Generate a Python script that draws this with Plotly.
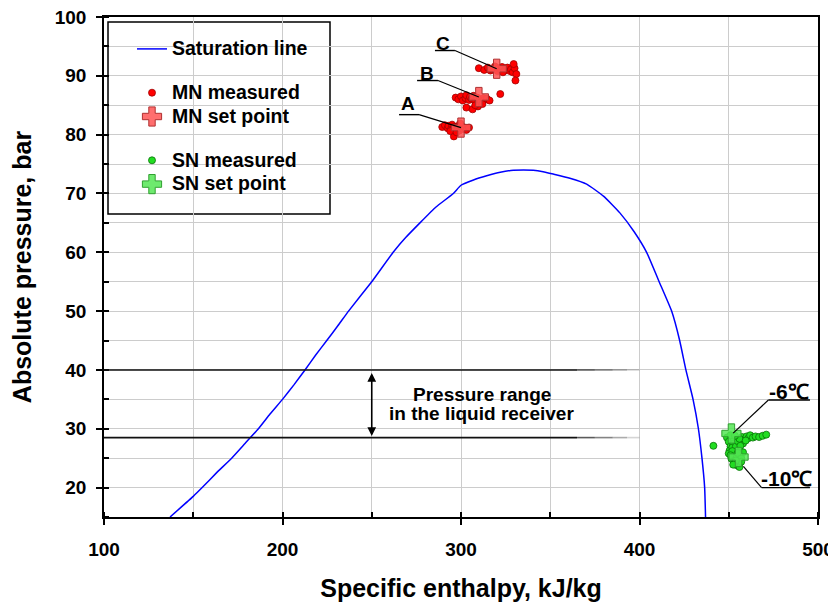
import plotly.graph_objects as go

# Saturation line (specific enthalpy kJ/kg, pressure bar)
sat_h = [137, 150, 155, 163, 171.5, 179, 186.5, 193, 200, 206.5, 212.6, 218.5, 224.8, 231, 237, 250, 262, 269, 277,
         286, 295.7, 300, 307, 314.4, 322, 329.3, 335, 340.5, 346, 351.7, 361, 370.4, 380, 389, 397, 404, 411,
         418, 422.5, 426, 430, 433, 435, 436.5, 437]
sat_P = [15, 18.5, 20, 22.5, 25, 27.5, 30, 32.5, 35, 37.5, 40, 42.5, 45, 47.5, 50, 55, 60, 62.5, 65,
         67.7, 70, 71.4, 72.3, 73, 73.6, 73.95, 74, 73.95, 73.7, 73.3, 72.6, 71.6, 69.5, 66.7, 63.5, 60, 55,
         50, 45, 40, 35, 30, 25, 20, 15]

# MN measured points (clusters A, B, C)
A_h = [289.5, 291, 292.5, 293, 294.5, 295, 296, 297, 298, 298.5, 299, 300, 301, 302, 303, 304.5, 296, 294, 299.5, 297.5]
A_P = [81.3, 81.6, 81.1, 81.5, 81.0, 81.7, 81.3, 80.9, 81.4, 81.1, 80.7, 81.5, 81.0, 81.2, 80.8, 81.2, 79.7, 80.6, 81.9, 80.4]
B_h = [297, 298.5, 300, 301, 302.5, 303, 304.5, 305, 306, 307, 308, 309, 310.5, 311, 312.5, 313, 314.5, 316, 322, 303, 306.5, 309.5, 312, 308]
B_P = [86.3, 86.0, 86.5, 85.8, 86.2, 86.7, 85.9, 86.4, 86.1, 86.6, 85.7, 86.3, 86.0, 85.5, 86.2, 85.9, 86.1, 85.8, 86.9, 84.6, 84.3, 84.8, 85.2, 85.0]
C_h = [310, 313, 315, 316.5, 318, 319, 320.5, 321, 322.5, 323, 324.5, 325, 326, 327.5, 328, 329, 330, 331, 330.5, 329.5, 317, 323.5]
C_P = [91.3, 91.0, 91.4, 90.9, 91.2, 91.6, 90.8, 91.3, 91.0, 91.5, 90.9, 91.2, 91.4, 90.8, 91.1, 90.6, 91.3, 90.3, 89.2, 92.0, 91.1, 90.6]

MN_set_h = [300, 310, 320]
MN_set_P = [81.2, 86.4, 91.2]
MN_labels = ["A", "B", "C"]

# SN measured points
SN_h = [441.4, 449, 450, 451, 450.5, 452, 451.5, 453, 452.5, 450, 451, 452, 453.5, 454, 455, 454.5, 456, 455.5,
        457, 456, 458, 457.5, 459, 460, 461, 462, 463.5, 465, 467, 469, 471, 453, 454, 455, 456, 457, 452, 451,
        453.5, 458, 459.5, 455, 454, 456.5, 452.5]
SN_P = [27.1, 28.5, 27.8, 27.0, 26.3, 25.6, 24.9, 28.2, 27.4, 25.8, 28.9, 26.8, 26.0, 25.2, 24.5, 23.8, 23.5, 24.2,
        25.0, 26.5, 27.5, 28.6, 28.2, 28.7, 28.4, 28.9, 28.5, 28.7, 28.6, 28.8, 29.0, 24.0, 27.0, 27.9, 28.3, 24.4,
        26.2, 25.5, 28.8, 26.0, 28.0, 25.9, 24.6, 27.1, 23.9]
SN_set_h = [451.5, 455.5]
SN_set_P = [29.2, 25.2]
SN_labels = ["-6℃", "-10℃"]

# Liquid receiver pressure range
receiver_P = [40, 28.5]

x_ticks = [100, 200, 300, 400, 500]
y_ticks = [20, 30, 40, 50, 60, 70, 80, 90, 100]

FONT = "Liberation Sans, Arial, sans-serif"


def big(t, size=19.5):
    return f"<span style='font-size:{size}px'><b>{t}</b></span>"


fig = go.Figure()

fig.add_trace(go.Scatter(x=sat_h, y=sat_P, mode="lines", name=big("Saturation line"),
                         line=dict(color="#0000ff", width=1.5, shape="spline", smoothing=0.4), legendgroup="g1"))

fig.add_trace(go.Scatter(x=A_h + B_h + C_h, y=A_P + B_P + C_P, mode="markers", name=big("MN measured"),
                         marker=dict(symbol="circle", size=7, color="#ff0000", line=dict(color="#a00000", width=0.8)),
                         legendgroup="g2"))
fig.add_trace(go.Scatter(x=MN_set_h, y=MN_set_P, mode="markers", name=big("MN set point"),
                         marker=dict(symbol="cross", size=16, color="rgba(255,85,85,0.85)",
                                     line=dict(color="#b03030", width=1)),
                         legendgroup="g2"))

fig.add_trace(go.Scatter(x=SN_h, y=SN_P, mode="markers", name=big("SN measured"),
                         marker=dict(symbol="circle", size=7, color="#22dd22", line=dict(color="#087008", width=0.8)),
                         legendgroup="g3"))
fig.add_trace(go.Scatter(x=SN_set_h, y=SN_set_P, mode="markers", name=big("SN set point"),
                         marker=dict(symbol="cross", size=16, color="rgba(85,230,85,0.85)",
                                     line=dict(color="#30a030", width=1)),
                         legendgroup="g3"))

shapes = []
# receiver range lines with fading end
for p in receiver_P:
    shapes.append(dict(type="line", xref="x", yref="y", x0=100, x1=365, y0=p, y1=p,
                       line=dict(color="#111111", width=1.6), layer="above"))
    for i, (a, b) in enumerate([(365, 375), (375, 385), (385, 393), (393, 400)]):
        shapes.append(dict(type="line", xref="x", yref="y", x0=a, x1=b, y0=p, y1=p,
                           line=dict(color="#333333", width=1.6), opacity=0.8 - 0.2 * i, layer="above"))

# leader lines for A, B, C
lab_text_pos = [(270.5, 85.3), (280.8, 90.4), (290.1, 95.5)]
lab_underline = [((265.3, 276.5), 83.4), ((275.4, 287.1), 89.2), ((285.4, 296.6), 94.3)]
annotations = []
for (tx, ty), ((u0, u1), uy), sx, sy, lab in zip(lab_text_pos, lab_underline, MN_set_h, MN_set_P, MN_labels):
    shapes.append(dict(type="line", xref="x", yref="y", x0=u0, x1=u1, y0=uy, y1=uy,
                       line=dict(color="black", width=1.4)))
    shapes.append(dict(type="line", xref="x", yref="y", x0=u1, x1=sx, y0=uy, y1=sy,
                       line=dict(color="black", width=1.2)))
    annotations.append(dict(x=tx, y=ty, xref="x", yref="y", text=f"<b>{lab}</b>", showarrow=False,
                            font=dict(size=19, family=FONT, color="black")))

# leader lines for SN labels
sn_text_pos = [(483.5, 36.3), (482.5, 21.6)]
sn_underline = [((472.2, 495.5), 34.9), ((468.4, 495.5), 20.0)]
sn_targets = [(452.5, 29.25), (458.2, 23.6)]
for (tx, ty), ((u0, u1), uy), (sx, sy), lab in zip(sn_text_pos, sn_underline, sn_targets, SN_labels):
    shapes.append(dict(type="line", xref="x", yref="y", x0=u0, x1=u1, y0=uy, y1=uy,
                       line=dict(color="black", width=1.4)))
    shapes.append(dict(type="line", xref="x", yref="y", x0=u0, x1=sx, y0=uy, y1=sy,
                       line=dict(color="black", width=1.2)))
    annotations.append(dict(x=tx, y=ty, xref="x", yref="y", text=f"<b>{lab}</b>", showarrow=False,
                            font=dict(size=21, family=FONT, color="black")))

# double arrow for pressure range
annotations.append(dict(x=250, y=receiver_P[1] + 0.25, ax=250, ay=receiver_P[0] - 0.25, xref="x", yref="y",
                        axref="x", ayref="y", text="", showarrow=True, arrowhead=2, arrowside="end+start",
                        arrowsize=1.1, arrowwidth=1.6, arrowcolor="black"))
annotations.append(dict(x=311.5, y=35.8, xref="x", yref="y", text="<b>Pressure range</b>", showarrow=False,
                        font=dict(size=19, family=FONT, color="black")))
annotations.append(dict(x=311.5, y=32.65, xref="x", yref="y", text="<b>in the liquid receiver</b>",
                        showarrow=False, font=dict(size=19, family=FONT, color="black")))

# legend box
shapes.append(dict(type="rect", xref="paper", yref="paper", x0=(108 - 104) / 714, x1=(330 - 104) / 714,
                   y0=1 - (213 - 16) / 500, y1=1 - (21 - 16) / 500,
                   line=dict(color="black", width=1.5), fillcolor="white", layer="below"))

axis_common = dict(showline=True, linecolor="black", linewidth=1.5, mirror=True, automargin=False,
                   ticks="outside", ticklen=6, tickwidth=1.5, tickcolor="black", ticklabeloverflow="allow",
                   showgrid=True, gridcolor="#cccccc", gridwidth=1, zeroline=False,
                   tickfont=dict(size=19, family=FONT, color="black"))

fig.update_layout(
    width=828, height=597,
    margin=dict(l=96, r=18, t=9, b=88),
    plot_bgcolor="rgba(0,0,0,0)", paper_bgcolor="white",
    font=dict(family=FONT, color="black"),
    shapes=shapes, annotations=annotations,
    showlegend=True,
    legend=dict(x=(132 - 104) / 714, y=1 - (31 - 16) / 500, xanchor="left", yanchor="top",
                bgcolor="rgba(0,0,0,0)", borderwidth=0, traceorder="grouped", tracegroupgap=20,
                font=dict(size=16, family=FONT, color="black"), itemsizing="trace"),
    xaxis=dict(range=[100, 500], tickvals=x_ticks, ticktext=[f"<b>{v}</b>" for v in x_ticks],
               minor=dict(dtick=50, tick0=0, ticks="inside", ticklen=5, tickcolor="black", showgrid=True,
                          gridcolor="#cccccc", gridwidth=1),
               title=dict(text="<b>Specific enthalpy, kJ/kg</b>", font=dict(size=25, family=FONT), standoff=21),
               ticklabelstandoff=8, **axis_common),
    yaxis=dict(range=[15, 100], tickvals=y_ticks, ticktext=[f"<b>{v}</b>" for v in y_ticks],
               minor=dict(dtick=5, tick0=0, ticks="inside", ticklen=5, tickcolor="black", showgrid=True,
                          gridcolor="#cccccc", gridwidth=1),
               title=dict(text="<b>Absolute pressure, bar</b>", font=dict(size=25, family=FONT), standoff=27),
               ticklabelstandoff=6, **axis_common),
)

fig.write_html("out.html")
